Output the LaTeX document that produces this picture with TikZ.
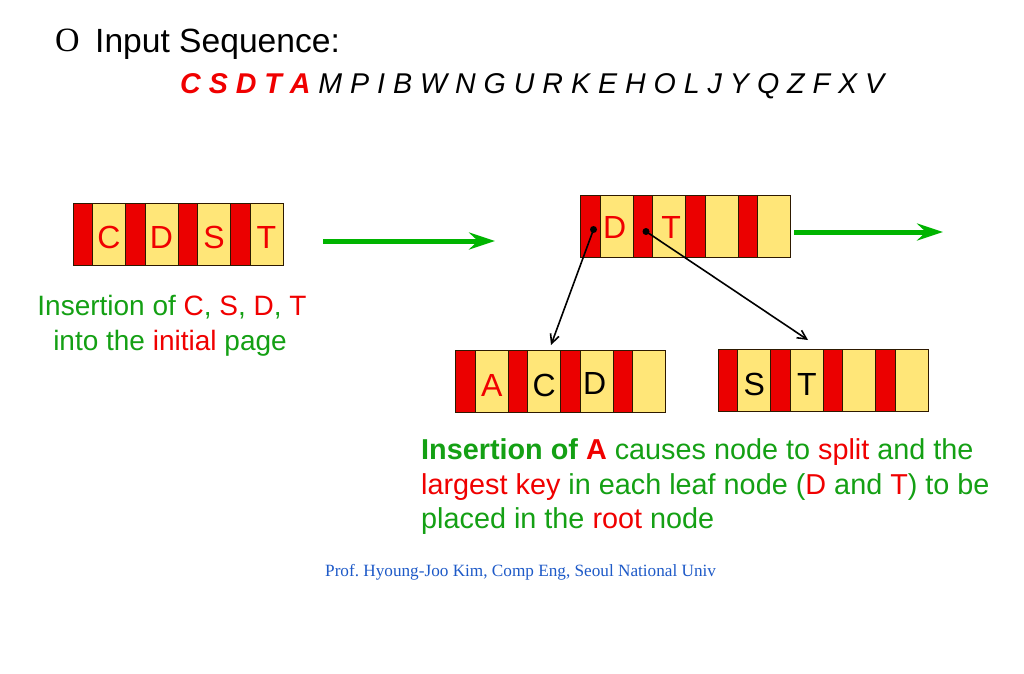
\documentclass[tikz,border=0pt]{standalone}
\usepackage{fontspec}
\setmainfont{Liberation Sans}
\newfontfamily\serifft{Liberation Serif}
\usetikzlibrary{arrows.meta}
\definecolor{cellred}{RGB}{235,0,0}
\definecolor{cellyel}{RGB}{255,230,120}
\definecolor{txtgreen}{RGB}{20,160,20}
\definecolor{arrgreen}{RGB}{0,180,0}
\definecolor{txtred}{RGB}{240,0,0}
\definecolor{footblue}{RGB}{30,90,200}
\definecolor{celledge}{RGB}{45,25,0}
\tikzset{
 cell/.style={draw=celledge, line width=1pt, inner sep=0pt, outer sep=0pt, minimum height=62pt, anchor=north west},
 redcell/.style={cell, fill=cellred, minimum width=19.5pt},
 yelcell/.style={cell, fill=cellyel, minimum width=33pt},
 keyletter/.style={font=\fontsize{32}{36}\selectfont, inner sep=0pt},
 body/.style={font=\fontsize{28}{34}\selectfont, inner sep=0pt, text=txtgreen},
 bodyb/.style={font=\fontsize{28.8}{34}\selectfont, inner sep=0pt, text=txtgreen},
 garrow/.style={arrgreen, line width=5pt, -{Stealth[length=26pt,width=17pt,inset=9pt]}},
 ptr/.style={black, line width=1.6pt, -{Straight Barb[length=9pt,width=9pt]}},
}
\newcommand\pagerow[3]{\foreach \i in {0,...,3}{%
  \node[redcell] (#1-r\i) at ({#2+\i*52.5},#3) {};
  \node[yelcell] (#1-k\i) at ({#2+\i*52.5+19.5},#3) {};}}
\newcommand\rd[1]{\textcolor{txtred}{#1}}
\frenchspacing
\begin{document}
\begin{tikzpicture}[x=1pt,y=-1pt]
\useasboundingbox[fill=white] (0,0) rectangle (1024,673);
% title
\node[inner sep=0pt, anchor=base west, font=\serifft\fontsize{34}{38}\selectfont] (bullet) at (55,51) {O};
\node[inner sep=0pt, anchor=base west, font=\fontsize{33.6}{38}\selectfont] (title) at (95,52) {Input Sequence:};
\node[inner sep=0pt, anchor=base west, font=\fontsize{28.6}{34}\selectfont\itshape] (seq) at (180,93)
  {\textbf{\rd{C S D T A}} M P I B W N G U R K E H O L J Y Q Z F X V};
% pages
\pagerow{p}{73}{203}
\pagerow{root}{580.7}{195}
\pagerow{la}{455.7}{350}
\pagerow{ls}{718.3}{349.5}
% keys
\node[keyletter, text=txtred] (pc) at ([yshift=-3pt]p-k0.center) {C};
\node[keyletter, text=txtred] (pd) at ([yshift=-3pt]p-k1.center) {D};
\node[keyletter, text=txtred] (ps) at ([yshift=-3pt]p-k2.center) {S};
\node[keyletter, text=txtred] (pt) at ([yshift=-3pt]p-k3.center) {T};
\node[keyletter, text=txtred] (rd) at ([xshift=-2pt,yshift=-1pt]root-k0.center) {D};
\node[keyletter, text=txtred] (rt) at ([xshift=2pt,yshift=-1pt]root-k1.center) {T};
\node[keyletter, text=txtred] (la) at ([yshift=-4pt]la-k0.center) {A};
\node[keyletter] (lc) at ([yshift=-4pt]la-k1.center) {C};
\node[keyletter] (ld) at ([xshift=-2pt,yshift=-2pt]la-k2.center) {D};
\node[keyletter] (ss) at ([yshift=-4pt]ls-k0.center) {S};
\node[keyletter] (st) at ([yshift=-4pt]ls-k1.center) {T};
% green arrows
\coordinate (g1s) at (323,241);
\coordinate (g1e) at (495,241);
\coordinate (g2s) at (794,232);
\coordinate (g2e) at (943,232);
\draw[garrow] (g1s) -- (g1e);
\draw[garrow] (g2s) -- (g2e);
% pointers
\coordinate (d1) at (593.5,229.5);
\coordinate (d2) at (646,231.5);
\coordinate (e1) at (551,345);
\coordinate (e2) at (808,340);
\fill (d1) circle (3.5pt);
\fill (d2) circle (3.5pt);
\draw[ptr] (d1) -- (e1);
\draw[ptr] (d2) -- (e2);
% left text
\node[body, anchor=base] (lt1) at (172,315) {Insertion of \rd{C}, \rd{S}, \rd{D}, \rd{T}};
\node[body, anchor=base] (lt2) at (170,350) {into the \rd{initial} page};
% bottom text
\node[bodyb, anchor=base west] (bt1) at (421,459) {\textbf{Insertion of \rd{A}} causes node to \rd{split} and the};
\node[bodyb, anchor=base west] (bt2) at (421,494) {\rd{largest key} in each leaf node (\rd{D} and \rd{T}) to be};
\node[bodyb, anchor=base west] (bt3) at (421,528) {placed in the \rd{root} node};
% footer
\node[inner sep=0pt, anchor=base west, text=footblue, font=\serifft\fontsize{17.2}{20}\selectfont] (foot) at (325,576)
  {Prof. Hyoung-Joo Kim, Comp Eng, Seoul National Univ};
\end{tikzpicture}
\end{document}
